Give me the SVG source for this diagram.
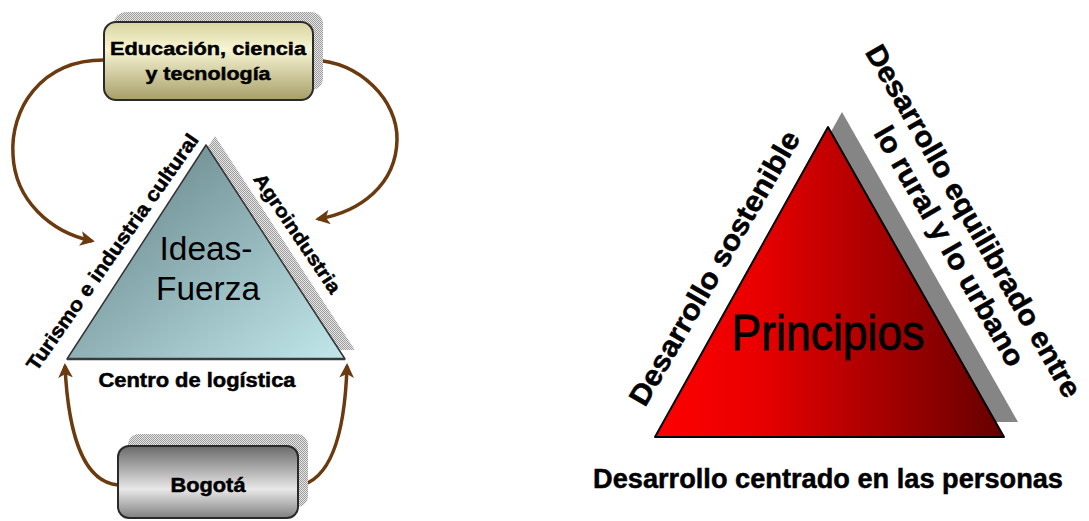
<svg xmlns="http://www.w3.org/2000/svg" width="1089" height="521" viewBox="0 0 1089 521">
<style>
.b{font-family:"Liberation Sans",Arial,sans-serif;font-weight:bold;fill:#000;stroke:#000;stroke-width:0.5}
.r{font-family:"Liberation Sans",Arial,sans-serif;fill:#000}
.arr{fill:none;stroke:#6B3A0E;stroke-width:3.5;marker-end:url(#ah)}
</style>
<defs>
<pattern id="dither" width="2" height="2" patternUnits="userSpaceOnUse"><rect width="2" height="2" fill="#e6e6e6"/><rect width="1" height="1" fill="#9c9c9c"/><rect x="1" y="1" width="1" height="1" fill="#9c9c9c"/></pattern>
<linearGradient id="teal" x1="0" y1="0" x2="1" y2="1"><stop offset="0" stop-color="#5c7a7e"/><stop offset="1" stop-color="#c2e8ec"/></linearGradient>
<linearGradient id="red" x1="0" y1="0" x2="1" y2="0"><stop offset="0" stop-color="#ff0000"/><stop offset="0.3" stop-color="#e80000"/><stop offset="1" stop-color="#650000"/></linearGradient>
<linearGradient id="yel" x1="0" y1="0" x2="0" y2="1"><stop offset="0" stop-color="#d8d3a0"/><stop offset="0.35" stop-color="#f7f5d4"/><stop offset="1" stop-color="#a79e68"/></linearGradient>
<linearGradient id="gray" x1="0" y1="0" x2="0" y2="1"><stop offset="0" stop-color="#6a6a6a"/><stop offset="0.6" stop-color="#e8e8e8"/><stop offset="1" stop-color="#808080"/></linearGradient>
<marker id="ah" viewBox="0 0 10 10" refX="8" refY="5" markerWidth="4.2" markerHeight="4.2" orient="auto" markerUnits="strokeWidth"><path d="M0,0 L10,5 L0,10 L2.5,5 Z" fill="#6B3A0E"/></marker>
</defs>

<g id="connectors">
<path class="arr" d="M104,60 C40,60 10,110 13,155 C15,200 50,232 92,241"/>
<path class="arr" d="M313,60 C360,62 398,100 397,140 C396,185 360,212 318,219"/>
<path class="arr" d="M118,485 C82,482 68,430 65,366"/>
<path class="arr" d="M298,486 C332,480 345,430 347,366"/>
</g>

<g id="ideas-fuerza">
<polygon points="215,136 77,350 355,350" fill="url(#dither)"/>
<polygon points="206,145 67,359 345,359" fill="url(#teal)" stroke="#333" stroke-width="1.5" stroke-linejoin="round"/>
<line x1="67" y1="359" x2="345" y2="359" stroke="#3a3a3a" stroke-width="2.5"/>
<text class="r" x="206" y="260" font-size="34" text-anchor="middle" textLength="93" lengthAdjust="spacingAndGlyphs">Ideas-</text>
<text class="r" x="208" y="300" font-size="34" text-anchor="middle" textLength="104" lengthAdjust="spacingAndGlyphs">Fuerza</text>
<text class="b" transform="translate(118,256) rotate(-55)" font-size="20" text-anchor="middle" textLength="284" lengthAdjust="spacingAndGlyphs">Turismo e industria cultural</text>
<text class="b" transform="translate(292,237) rotate(56)" font-size="19" text-anchor="middle" textLength="140" lengthAdjust="spacingAndGlyphs">Agroindustria</text>
<text class="b" x="197" y="387" font-size="20" text-anchor="middle" textLength="197" lengthAdjust="spacingAndGlyphs">Centro de logística</text>
</g>

<g id="educacion">
<rect x="114" y="12" width="209" height="78" rx="12" fill="url(#dither)"/>
<rect x="104" y="22" width="209" height="78" rx="12" fill="url(#yel)" stroke="#2a2a2a" stroke-width="2"/>
<text class="b" x="208" y="55" font-size="19" text-anchor="middle" textLength="196" lengthAdjust="spacingAndGlyphs">Educación, ciencia</text>
<text class="b" x="208" y="80" font-size="19" text-anchor="middle" textLength="125" lengthAdjust="spacingAndGlyphs">y tecnología</text>
</g>

<g id="bogota">
<rect x="128" y="434" width="180" height="73" rx="11" fill="url(#dither)"/>
<rect x="118" y="446" width="180" height="72" rx="11" fill="url(#gray)" stroke="#2a2a2a" stroke-width="2"/>
<text class="b" x="208" y="492" font-size="20" text-anchor="middle" textLength="75" lengthAdjust="spacingAndGlyphs">Bogotá</text>
</g>

<g id="principios">
<polygon points="842,112 669,422 1018,422" fill="#858585"/>
<polygon points="828,127 655,437 1004,437" fill="url(#red)" stroke="#000" stroke-width="2" stroke-linejoin="round"/>
<text class="r" x="828" y="350" font-size="50" text-anchor="middle" textLength="193" lengthAdjust="spacingAndGlyphs" stroke="#000" stroke-width="0.8">Principios</text>
<text class="b" transform="translate(723,273) rotate(-60)" font-size="29" text-anchor="middle" textLength="312" lengthAdjust="spacingAndGlyphs">Desarrollo sostenible</text>
<text class="b" transform="translate(965,226) rotate(60)" font-size="29" text-anchor="middle" textLength="402" lengthAdjust="spacingAndGlyphs">Desarrollo equilibrado entre</text>
<text class="b" transform="translate(941,251) rotate(60)" font-size="29" text-anchor="middle" textLength="272" lengthAdjust="spacingAndGlyphs">lo rural y lo urbano</text>
<text class="b" x="828" y="488" font-size="28" text-anchor="middle" textLength="470" lengthAdjust="spacingAndGlyphs">Desarrollo centrado en las personas</text>
</g>
</svg>
